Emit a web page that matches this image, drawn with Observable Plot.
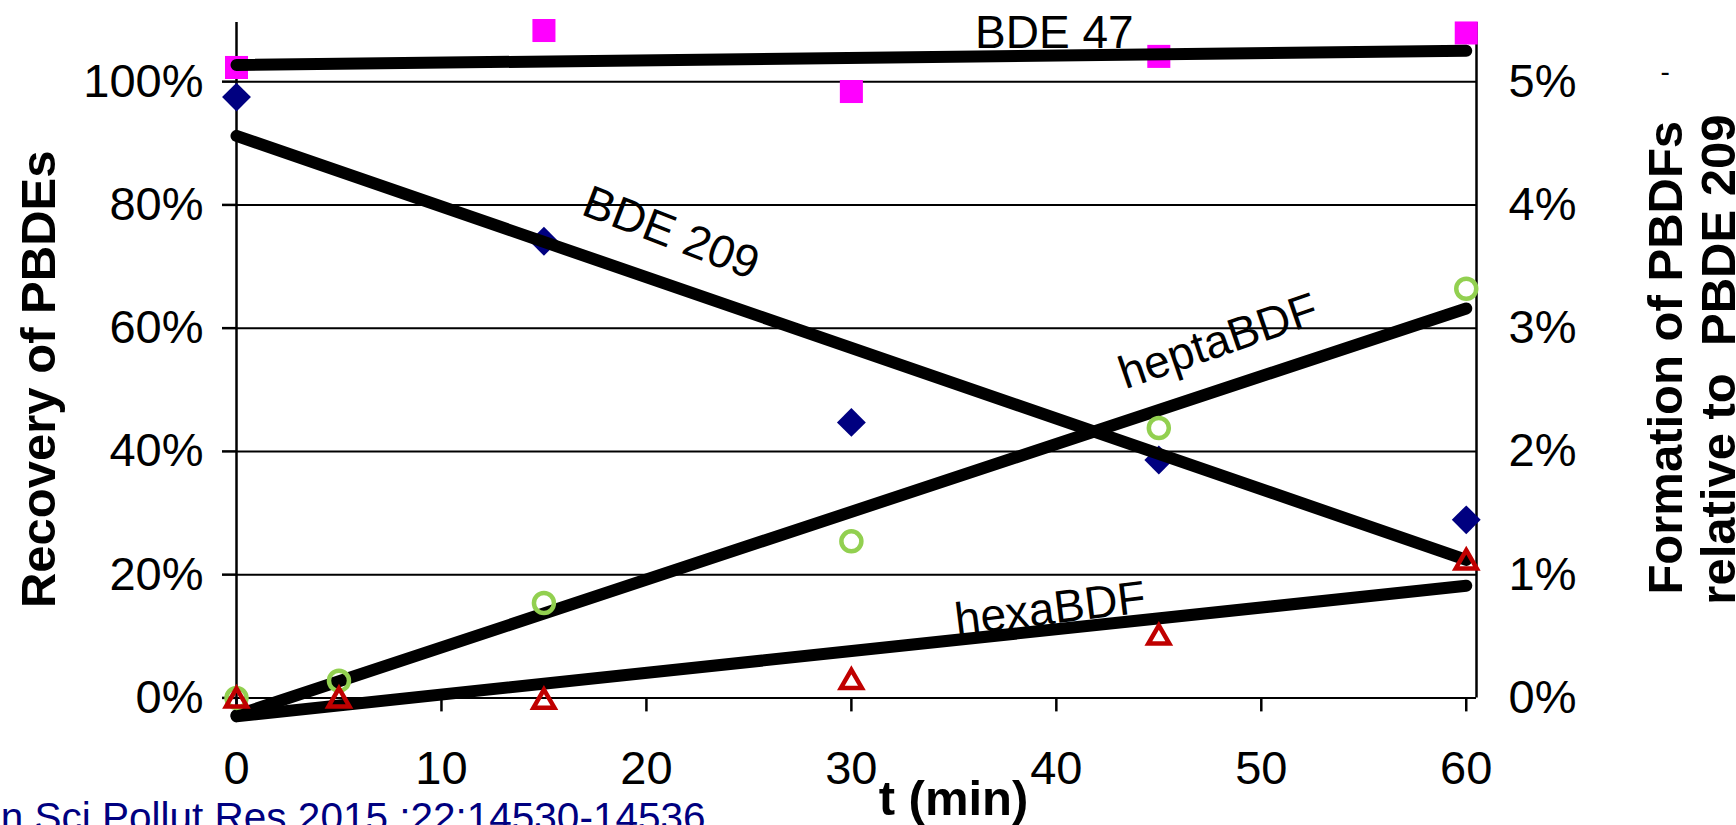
<!DOCTYPE html>
<html><head><meta charset="utf-8">
<script src="https://cdn.jsdelivr.net/npm/d3@7"></script>
<script src="https://cdn.jsdelivr.net/npm/@observablehq/plot@0.6"></script>
<style>
html,body{margin:0;padding:0;background:#fff;overflow:hidden;}
svg text{white-space:pre;}
</style></head><body><div id="chart"></div>
<script>
// ---- data ----
const times = [0, 15, 30, 45, 60];                 // min
const bde47 = [102.3, 108.3, 98.4, 104.1, 107.9];   // % recovery (left axis)
const bde209 = [97.5, 74.1, 44.7, 38.6, 28.9];     // % recovery (left axis)
const bdfTimes = [0, 5, 15, 30, 45, 60];           // min
const heptaBDF = [0.0, 0.14, 0.77, 1.27, 2.19, 3.32]; // % formation (right axis)
const hexaBDF = [-0.02, -0.02, -0.03, 0.13, 0.49, 1.10]; // % formation (right axis)
const fitTimes = [0, 60];
const bde47Fit = [102.7, 105.0];
const bde209Fit = [91.2, 22.4];
const heptaFit = [-0.14, 3.16];
const hexaFit = [-0.15, 0.91];
const leftTicks = [0, 20, 40, 60, 80, 100];
const xTicks = [0, 10, 20, 30, 40, 50, 60];
const rightFactor = 20; // right axis (0–5%) maps onto left axis (0–100%)
const labelTexts = ["BDE 47", "BDE 209", "heptaBDF", "hexaBDF"];
const yLeftTitle = "Recovery of PBDEs";
const yRightTitle = ["Formation of PBDFs", "relative to  PBDE 209"];
const xTitle = "t (min)";
const caption = "on Sci Pollut Res 2015 ;22:14530-14536";

// ---- helpers ----
const rows = (xs, ys, k = 1) => xs.map((x, i) => ({x, y: ys[i] * k}));
const font = "'Liberation Sans', Arial, Helvetica, sans-serif";
const X_MAX = 60.5, Y_MAX = 109.6;
const annotations = [
  {text: labelTexts[0], x: 39.9, y: 107.8, rotate: 0},
  {text: labelTexts[1], x: 21.2, y: 75.4, rotate: 21},
  {text: labelTexts[2], x: 47.9, y: 57.8, rotate: -19},
  {text: labelTexts[3], x: 39.7, y: 14.4, rotate: -7}
];
const titles = [
  {text: yLeftTitle, x: -9.61, y: 51.7},
  {text: yRightTitle[0], x: 69.76, y: 55.2},
  {text: yRightTitle[1], x: 72.34, y: 54.9}
];

const chart = Plot.plot({
  width: 1736, height: 825,
  marginTop: 22, marginBottom: 127.6, marginLeft: 236, marginRight: 260,
  x: {domain: [0, X_MAX]},
  y: {domain: [0, Y_MAX]},
  style: {fontFamily: font, color: "black", background: "white", overflow: "visible"},
  marks: [
    Plot.ruleY(leftTicks, {x1: 0, x2: X_MAX, stroke: "black", strokeWidth: 2}),
    Plot.ruleX([0], {y1: -3.2, y2: Y_MAX, stroke: "black", strokeWidth: 2.5}),
    Plot.ruleX([X_MAX], {y1: 0, y2: Y_MAX, stroke: "black", strokeWidth: 2.5}),
    Plot.axisY({anchor: "left", ticks: leftTicks, tickFormat: d => d + "%", tickSize: 14, tickPadding: 19, fontSize: 47, label: null, strokeWidth: 2.5}),
    Plot.axisY({anchor: "right", ticks: leftTicks, tickFormat: d => (d / rightFactor) + "%", tickSize: 0, tickPadding: 32, fontSize: 47, label: null}),
    Plot.axisX({ticks: xTicks, tickFormat: d => String(d), tickSize: 14, tickPadding: 39, fontSize: 47, label: null, strokeWidth: 2.5}),
    Plot.dot(rows(times, bde47), {x: "x", y: "y", symbol: "square", fill: "#FF00FF", r: 13}),
    Plot.dot(rows(times, bde209), {x: "x", y: "y", symbol: "diamond2", fill: "#000080", r: 13}),
    Plot.line(rows(fitTimes, bde47Fit), {x: "x", y: "y", stroke: "black", strokeWidth: 12}),
    Plot.line(rows(fitTimes, bde209Fit), {x: "x", y: "y", stroke: "black", strokeWidth: 12}),
    Plot.line(rows(fitTimes, heptaFit, rightFactor), {x: "x", y: "y", stroke: "black", strokeWidth: 12, strokeLinecap: "round"}),
    Plot.line(rows(fitTimes, hexaFit, rightFactor), {x: "x", y: "y", stroke: "black", strokeWidth: 12, strokeLinecap: "round"}),
    Plot.dot(rows(bdfTimes, heptaBDF, rightFactor), {x: "x", y: "y", symbol: "circle", stroke: "#92D050", fill: "none", strokeWidth: 4.5, r: 10}),
    Plot.dot(rows(bdfTimes, hexaBDF, rightFactor), {x: "x", y: "y", symbol: "triangle2", stroke: "#C00000", fill: "none", strokeWidth: 4.5, r: 10}),
    Plot.text(annotations, {x: "x", y: "y", text: "text", rotate: "rotate", fontSize: 46, fill: "black"}),
    Plot.text(titles, {x: "x", y: "y", text: "text", rotate: -90, fontSize: 49, fontWeight: "bold", lineAnchor: "middle"}),
    Plot.text([xTitle], {frameAnchor: "bottom", dx: 97, dy: 101.6, lineAnchor: "middle", fontSize: 49, fontWeight: "bold"}),
    Plot.text([caption], {frameAnchor: "bottom-left", dx: 469, dy: 120, lineAnchor: "middle", textAnchor: "end", fontSize: 40.5, fill: "#000080"}),
    Plot.text(["-"], {x: 69.7, y: 101.5, fontSize: 28})
  ]
});
document.getElementById("chart").appendChild(chart);
</script></body></html>
